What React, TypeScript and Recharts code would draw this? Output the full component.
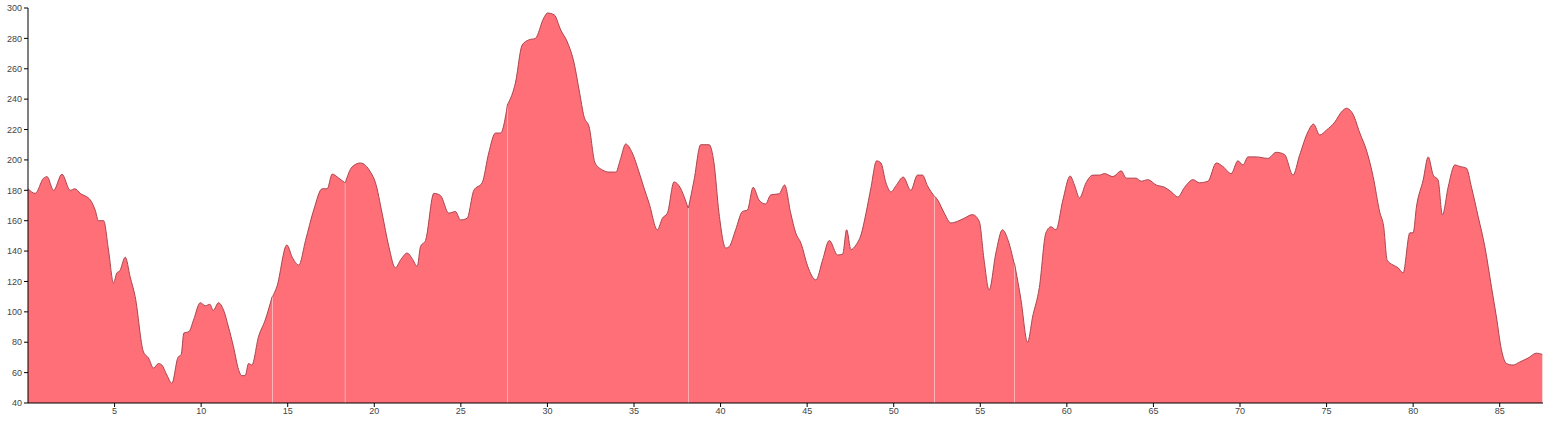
import { AreaChart, Area, XAxis, YAxis } from "recharts";

// distance (km) along the route
const KM = [
  0, 0.42, 0.9, 1.1, 1.48, 1.96, 2.44, 2.7, 3.02, 3.6, 3.88, 4.07, 4.37, 4.65, 4.94, 5.13, 5.3, 5.62, 5.9, 6.19,
  6.67, 6.96, 7.25, 7.54, 7.73, 8.02, 8.31, 8.66, 8.85, 9.0, 9.3, 9.56, 9.95, 10.24, 10.5, 10.7, 11.0, 11.3, 11.58,
  11.87, 12.16, 12.35, 12.54, 12.74, 12.93, 13.31, 13.7, 14.1, 14.37, 14.95, 15.26, 15.64, 16.03, 16.5, 16.99,
  17.28, 17.57, 17.95, 18.3, 18.72, 19.2, 19.78, 20.07, 20.45, 20.84, 21.22, 21.51, 21.9, 22.19, 22.48, 22.67,
  22.96, 23.44, 23.82, 24.3, 24.69, 24.98, 25.36, 25.75, 26.23, 26.61, 27.0, 27.29, 27.7, 28.15, 28.54, 28.92,
  29.3, 29.79, 30.0, 30.39, 30.77, 31.15, 31.54, 31.83, 32.12, 32.41, 32.75, 33.18, 33.56, 33.95, 34.23, 34.52,
  34.9, 35.29, 35.58, 35.87, 36.35, 36.64, 36.93, 37.31, 37.6, 37.89, 38.12, 38.47, 38.85, 39.34, 39.62, 39.91,
  40.3, 40.5, 40.87, 41.26, 41.55, 41.88, 42.22, 42.6, 42.9, 43.38, 43.7, 44.05, 44.34, 44.65, 45.03, 45.51,
  45.89, 46.28, 46.76, 47.05, 47.28, 47.53, 47.82, 48.11, 48.4, 48.69, 49.01, 49.26, 49.55, 49.84, 50.13, 50.55,
  50.99, 51.37, 51.66, 51.95, 52.35, 52.54, 52.92, 53.3, 53.69, 54.07, 54.55, 54.94, 55.22, 55.51, 55.9, 56.28,
  56.61, 56.95, 57.35, 57.73, 58.02, 58.41, 58.79, 59.08, 59.37, 59.77, 60.19, 60.44, 60.73, 61.11, 61.5, 61.88,
  62.17, 62.66, 63.14, 63.43, 64.0, 64.29, 64.68, 65.16, 65.64, 66.03, 66.41, 66.8, 67.28, 67.66, 68.15, 68.63,
  69.01, 69.49, 69.88, 70.17, 70.46, 70.94, 71.61, 72.09, 72.57, 73.06, 73.44, 73.92, 74.24, 74.61, 74.99, 75.48,
  75.86, 76.15, 76.53, 76.92, 77.3, 77.69, 78.07, 78.3, 78.5, 78.84, 79.13, 79.42, 79.81, 80.0, 80.19, 80.58,
  80.87, 81.16, 81.44, 81.69, 82.02, 82.41, 82.7, 83.08, 83.37, 83.76, 84.14, 84.53, 84.81, 85.1, 85.39, 85.77,
  86.16, 86.64, 87.12, 87.46,
];

// elevation (m) at each KM entry
const ELEV = [
  181, 178, 188, 189, 180, 190.6, 180, 181, 178, 173.6, 167, 160, 160, 140.7, 119, 125.6, 127, 136, 123, 110,
  73.6, 69.6, 63, 66, 65, 58.4, 53, 70, 72, 86, 87, 94.6, 106, 104, 105, 101, 106, 101, 90,
  77, 62, 58, 58, 66, 65, 83.5, 94.6, 110, 116.4, 144, 136, 130.8, 147, 167, 181,
  181, 190.7, 188, 185, 195.4, 198, 192, 185, 165, 143, 129, 134, 138.7, 135, 130, 143,
  147, 178, 176.6, 165, 166, 160.5, 161.6, 180, 185, 204.6, 217.7, 217.7, 237, 250.6, 275.6, 279,
  280, 293.4, 296.7, 295.5, 285.5, 277.6, 263.8, 246, 228.3, 221.7, 198, 193.4, 192, 192, 201, 210.5,
  204.6, 192, 181.5, 171.6, 154, 161.6, 165, 185.5, 183, 176, 168.4, 186.8, 210, 210, 198, 165,
  142, 143, 154, 166, 167, 182, 173.6, 171, 177, 177.7, 183.5, 165, 152, 145, 130, 121,
  134, 147, 137.4, 138, 154, 141, 144, 150.6, 165, 182, 199.4, 198, 185, 179, 183, 188.7,
  180, 190, 190, 183, 176, 173.6, 165, 158.5, 159.6, 161.6, 164, 159.6, 134, 114.4, 138.7, 154,
  147, 132, 108, 80, 96.6, 116, 152, 156, 154, 173.6, 189.4, 183.5, 175, 185, 190, 190,
  191, 189, 192.8, 188, 188, 186, 187, 183.5, 182, 179, 175.6, 182, 187, 185, 186, 198,
  195.7, 191, 199.4, 196.7, 202, 202, 201, 205, 203.6, 190, 203, 218.4, 223.6, 216.4, 219.6, 225,
  231.6, 234, 230, 217.7, 206.5, 189, 165.7, 156, 134, 130.8, 129, 125.6, 152, 152, 169, 186.8,
  202, 190, 186.8, 163.8, 182, 196.7, 195.7, 194.5, 182, 162.5, 143, 116, 96.6, 75, 66, 65,
  67, 69.6, 72.8, 72,
];

// places where the track is split into separate pieces
const BREAKS = [14.1, 18.3, 27.7, 38.12, 52.35, 56.95];
const SEAM = 0.025;

const X_TICKS = [5, 10, 15, 20, 25, 30, 35, 40, 45, 50, 55, 60, 65, 70, 75, 80, 85];
const Y_TICKS = [40, 60, 80, 100, 120, 140, 160, 180, 200, 220, 240, 260, 280, 300];

const SEG_KEYS = BREAKS.map((_, i) => `s${i}`).concat(`s${BREAKS.length}`);

const rows: Record<string, number>[] = [];
KM.forEach((km, i) => {
  const seg = BREAKS.filter((b) => b < km).length;
  rows.push({ km, [`s${seg}`]: ELEV[i] });
  if (BREAKS.includes(km)) {
    rows.push({ km: km + SEAM, [`s${seg + 1}`]: ELEV[i] });
  }
});

const tickStyle = { fontSize: 9, fill: "#444", fontFamily: "Liberation Sans, Arial, sans-serif" };

export default function App() {
  return (
    <div style={{ position: "absolute", left: 0, top: 0, background: "#fff" }}>
      <AreaChart width={1545} height={421} data={rows} margin={{ top: 8, right: 2, left: 0, bottom: 0 }}>
        <XAxis
          dataKey="km"
          type="number"
          domain={[0, 87.5]}
          ticks={X_TICKS}
          tick={tickStyle}
          tickSize={4}
          tickMargin={1}
          height={18}
          stroke="#000"
          allowDataOverflow
        />
        <YAxis
          type="number"
          domain={[40, 300]}
          ticks={Y_TICKS}
          tick={tickStyle}
          tickSize={4}
          tickMargin={2}
          width={28}
          stroke="#000"
          allowDataOverflow
        />
        {SEG_KEYS.map((k) => (
          <Area
            key={k}
            type="monotone"
            dataKey={k}
            baseValue={40}
            fill="#ff6f78"
            fillOpacity={1}
            stroke="#a8464f"
            strokeWidth={1}
            dot={false}
            activeDot={false}
            connectNulls={false}
            isAnimationActive={false}
          />
        ))}
      </AreaChart>
    </div>
  );
}
